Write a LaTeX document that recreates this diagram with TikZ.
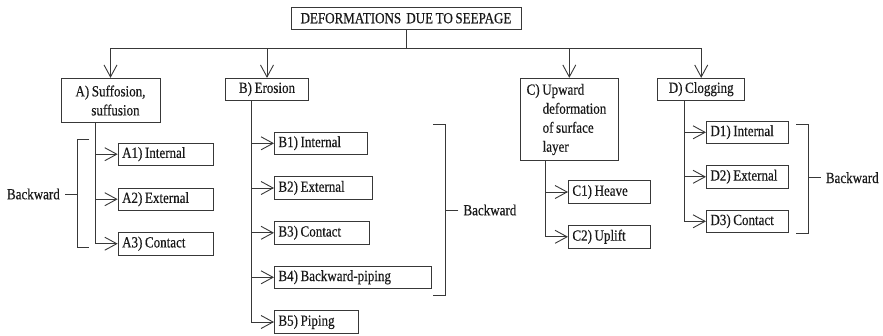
\documentclass[tikz,border=0pt]{standalone}
\usepackage{fontspec}
\setmainfont{Liberation Serif}[FakeStretch=0.84,FakeBold=0.4,WordSpace=0.8]
\usetikzlibrary{arrows.meta}
\begin{document}
\begin{tikzpicture}[x=1pt,y=-1pt,
  every node/.style={font=\fontsize{15.5}{19}\selectfont, text=black!90},
  ln/.style={draw=black!78, line width=0.9pt},
  arr/.style={ln, -{Straight Barb[length=12pt,width=13pt]}},
  box/.style={ln, inner ysep=0pt, minimum height=22.5pt},
  head/.style={box, align=center, inner xsep=2pt},
  leaf/.style={box, anchor=west, align=flush left, inner xsep=4pt, text width=#1-8pt},
  tag/.style={inner xsep=5pt, inner ysep=0pt}]
\useasboundingbox (0,0) rectangle (883,335);

% title and the four main classes
\node[head, minimum width=230pt, minimum height=22pt] (T) at (406,18.2) {DEFORMATIONS\ \ DUE TO SEEPAGE};
\node[head, minimum width=99pt, minimum height=44.4pt] (A) at (110.5,100.5) {A) Suffosion,\\\hspace*{10pt}suffusion};
\node[head, minimum width=82.6pt, minimum height=21.7pt] (B) at (267,89.2) {B) Erosion};
\node[box, align=flush left, inner xsep=6.7pt, text width=85.3pt, minimum height=82.4pt] (C) at (569.3,119.5)
  {C) Upward\\\hspace*{16pt}deformation\\\hspace*{16pt}of surface\\\hspace*{16pt}layer};
\node[head, minimum width=87pt, minimum height=21.7pt] (D) at (701.2,89.2) {D) Clogging};

% sub-classes
\node[leaf=95.6pt] (A1) at (117.7,154.2) {A1) Internal};
\node[leaf=95.6pt] (A2) at (117.7,199.2) {A2) External};
\node[leaf=95.6pt] (A3) at (117.7,243.7) {A3) Contact};

\node[leaf=93.3pt] (B1) at (274,143.3) {B1) Internal};
\node[leaf=97.7pt] (B2) at (274,188) {B2) External};
\node[leaf=95.3pt] (B3) at (274,232.8) {B3) Contact};
\node[leaf=157pt] (B4) at (274,277.3) {B4) Backward-piping};
\node[leaf=84.3pt] (B5) at (274,322) {B5) Piping};

\node[leaf=82.3pt] (C1) at (568,192) {C1) Heave};
\node[leaf=82.3pt] (C2) at (568,236.8) {C2) Uplift};

\node[leaf=82.3pt] (D1) at (706,132.3) {D1) Internal};
\node[leaf=82.3pt] (D2) at (706,176.8) {D2) External};
\node[leaf=82.3pt] (D3) at (706,221.3) {D3) Contact};

% distribution bus under the title
\coordinate (bus) at (0,48);
\draw[ln] (T.south) -- (T.south |- bus);
\draw[ln] (A.north |- bus) -- (D.north |- bus);
\foreach \n in {A,B,C,D} \draw[arr] (\n.north |- bus) -- (\n.north);

% stems of each branch
\coordinate (Ax) at (95,0);
\coordinate (Bx) at (251.7,0);
\coordinate (Cx) at (545.7,0);
\coordinate (Dx) at (684,0);
\draw[arr] (A.south -| Ax) |- (A3.west);
\foreach \n in {A1,A2} \draw[arr] (Ax |- \n.west) -- (\n.west);
\draw[arr] (B.south -| Bx) |- (B5.west);
\foreach \n in {B1,B2,B3,B4} \draw[arr] (Bx |- \n.west) -- (\n.west);
\draw[arr] (C.south -| Cx) |- (C2.west);
\draw[arr] (Cx |- C1.west) -- (C1.west);
\draw[arr] (D.south -| Dx) |- (D3.west);
\foreach \n in {D1,D2} \draw[arr] (Dx |- \n.west) -- (\n.west);

% brackets grouping the backward forms
\coordinate (brA) at (77.3,0);
\coordinate (brB) at (445,0);
\coordinate (brD) at (808.3,0);

\node[tag, anchor=east] (BkA) at (65,194) {Backward};
\draw[ln] (89.3,139) -| (77.3,247.7) -- (89.3,247.7);
\draw[ln] (BkA.east) -- (BkA.east -| brA);

\node[tag, anchor=west] (BkB) at (458.3,210) {Backward};
\draw[ln] (433.3,124) -| (445,295.7) -- (433.3,295.7);
\draw[ln] (BkB.west) -- (BkB.west -| brB);

\node[tag, anchor=west] (BkD) at (820.7,177.7) {Backward};
\draw[ln] (796,124) -| (808.3,233.3) -- (796,233.3);
\draw[ln] (BkD.west) -- (BkD.west -| brD);
\end{tikzpicture}
\end{document}
